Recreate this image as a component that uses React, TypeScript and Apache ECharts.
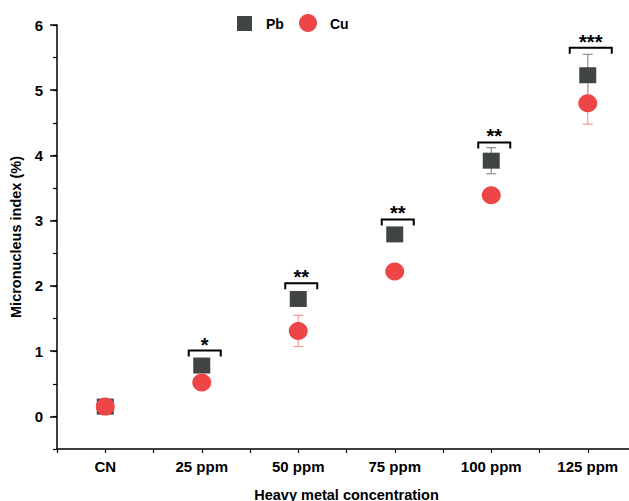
import React, { useEffect, useRef } from "react";
import * as echarts from "echarts";

const categories = ["CN", "25 ppm", "50 ppm", "75 ppm", "100 ppm", "125 ppm"];
const pbMean = [0.15, 0.78, 1.8, 2.79, 3.92, 5.23];
const pbErr = [0.06, 0.06, 0.06, 0.06, 0.2, 0.32];
const cuMean = [0.15, 0.52, 1.31, 2.22, 3.39, 4.8];
const cuErr = [0.06, 0.06, 0.24, 0.06, 0.06, 0.32];
const sigLevel = [null, 1.01, 2.04, 3.02, 4.2, 5.65];
const sigLabel = ["", "*", "**", "**", "**", "***"];
const yTicks = [0, 1, 2, 3, 4, 5, 6];

const PB_COLOR = "#404544";
const CU_COLOR = "#ee4646";
const FONT = "Liberation Sans";

export default function App() {
  const ref = useRef<HTMLDivElement>(null);
  useEffect(() => {
    if (!ref.current) return;
    const chart = echarts.init(ref.current, undefined, { renderer: "svg" });

    const errSeries = (mean: number[], err: number[], color: string, z: number) => ({
      type: "custom",
      xAxisIndex: 0,
      yAxisIndex: 0,
      z,
      silent: true,
      data: mean.map((m, i) => [i, m, err[i]]),
      renderItem: (params: any, api: any) => {
        const x = api.value(0);
        const m = api.value(1);
        const e = api.value(2);
        const top = api.coord([x, m + e]);
        const bot = api.coord([x, m - e]);
        const cw = 5;
        const style = { stroke: color, lineWidth: 1.2 };
        return {
          type: "group",
          children: [
            { type: "line", shape: { x1: top[0], y1: top[1], x2: bot[0], y2: bot[1] }, style },
            { type: "line", shape: { x1: top[0] - cw, y1: top[1], x2: top[0] + cw, y2: top[1] }, style },
            { type: "line", shape: { x1: bot[0] - cw, y1: bot[1], x2: bot[0] + cw, y2: bot[1] }, style },
          ],
        };
      },
    });

    const sigData = sigLevel
      .map((v, i) => (v == null ? null : [i, v, i]))
      .filter((d) => d !== null);

    const tickFont = { fontFamily: FONT, fontWeight: "bold", fontSize: 15, color: "#000" };
    const nameFont = { fontFamily: FONT, fontWeight: "bold", fontSize: 14.5, color: "#000" };

    const option: any = {
      animation: false,
      grid: { left: 57, top: 25, bottom: 52, right: -7, containLabel: false, outerBoundsMode: "none" },
      graphic: [
        { type: "rect", shape: { x: 237, y: 16, width: 15, height: 15 }, style: { fill: PB_COLOR } },
        {
          type: "text",
          x: 266,
          y: 24,
          style: { text: "Pb", fontFamily: FONT, fontWeight: "bold", fontSize: 14, fill: "#000", verticalAlign: "middle" },
        },
        { type: "circle", shape: { cx: 308, cy: 23, r: 9 }, style: { fill: CU_COLOR } },
        {
          type: "text",
          x: 330,
          y: 24,
          style: { text: "Cu", fontFamily: FONT, fontWeight: "bold", fontSize: 14, fill: "#000", verticalAlign: "middle" },
        },
      ],
      xAxis: [
        {
          type: "category",
          data: categories,
          boundaryGap: true,
          name: "Heavy metal concentration",
          nameLocation: "middle",
          nameGap: 38,
          nameTextStyle: nameFont,
          axisLine: { onZero: false, lineStyle: { color: "#000", width: 1.5 } },
          axisTick: { alignWithLabel: true, length: 7, lineStyle: { color: "#000", width: 1.5 } },
          axisLabel: { ...tickFont, margin: 10 },
          splitLine: { show: false },
        },
        {
          type: "value",
          position: "bottom",
          min: -0.5,
          max: 5.5,
          interval: 0.5,
          axisLine: { show: false, onZero: false },
          axisTick: { length: 4, lineStyle: { color: "#000", width: 1.2 } },
          axisLabel: { show: false },
          splitLine: { show: false },
        },
      ],
      yAxis: [
        {
          type: "value",
          min: -0.5,
          max: 6,
          interval: 0.5,
          name: "Micronucleus index (%)",
          nameLocation: "middle",
          nameGap: 33,
          nameTextStyle: nameFont,
          axisLine: { show: true, onZero: false, lineStyle: { color: "#000", width: 1.5 } },
          axisTick: { show: true, length: 4, lineStyle: { color: "#000", width: 1.2 } },
          axisLabel: { ...tickFont, customValues: yTicks, margin: 14 },
          splitLine: { show: false },
        },
        {
          type: "value",
          position: "left",
          min: -0.5,
          max: 6,
          interval: 0.5,
          axisLine: { show: false, onZero: false },
          axisTick: { show: true, customValues: yTicks, length: 7, lineStyle: { color: "#000", width: 1.5 } },
          axisLabel: { show: false },
          splitLine: { show: false },
        },
      ],
      series: [
        errSeries(pbMean, pbErr, "#8f8f8f", 1),
        errSeries(cuMean, cuErr, "#f29a9a", 2),
        {
          type: "scatter",
          name: "Pb",
          xAxisIndex: 0,
          yAxisIndex: 0,
          z: 3,
          symbol: "rect",
          symbolSize: [17, 16],
          itemStyle: { color: PB_COLOR, opacity: 1 },
          data: pbMean.map((v, i) => [i, v]),
        },
        {
          type: "scatter",
          name: "Cu",
          xAxisIndex: 0,
          yAxisIndex: 0,
          z: 4,
          symbol: "circle",
          symbolSize: [19, 18],
          itemStyle: { color: CU_COLOR, opacity: 1 },
          data: cuMean.map((v, i) => [i, v]),
        },
        {
          type: "custom",
          xAxisIndex: 0,
          yAxisIndex: 0,
          z: 5,
          silent: true,
          data: sigData,
          renderItem: (params: any, api: any) => {
            const i = api.value(2);
            const p = api.coord([api.value(0), api.value(1)]);
            const label = sigLabel[i];
            const hw = label.length >= 3 ? 21 : 16;
            const cx = p[0] + 3;
            const y = p[1];
            return {
              type: "group",
              children: [
                {
                  type: "polyline",
                  shape: { points: [[cx - hw, y + 6], [cx - hw, y], [cx + hw, y], [cx + hw, y + 6]] },
                  style: { stroke: "#000", lineWidth: 2, fill: null },
                },
                {
                  type: "text",
                  x: cx,
                  y: y - 6,
                  style: {
                    text: label,
                    fontFamily: FONT,
                    fontWeight: "bold",
                    fontSize: 20,
                    fill: "#000",
                    align: "center",
                    verticalAlign: "middle",
                  },
                },
              ],
            };
          },
        },
      ],
    };
    chart.setOption(option);
    return () => chart.dispose();
  }, []);
  return (
    <div
      ref={ref}
      style={{ position: "absolute", left: 0, top: 0, width: 629, height: 501, background: "#fff" }}
    />
  );
}
